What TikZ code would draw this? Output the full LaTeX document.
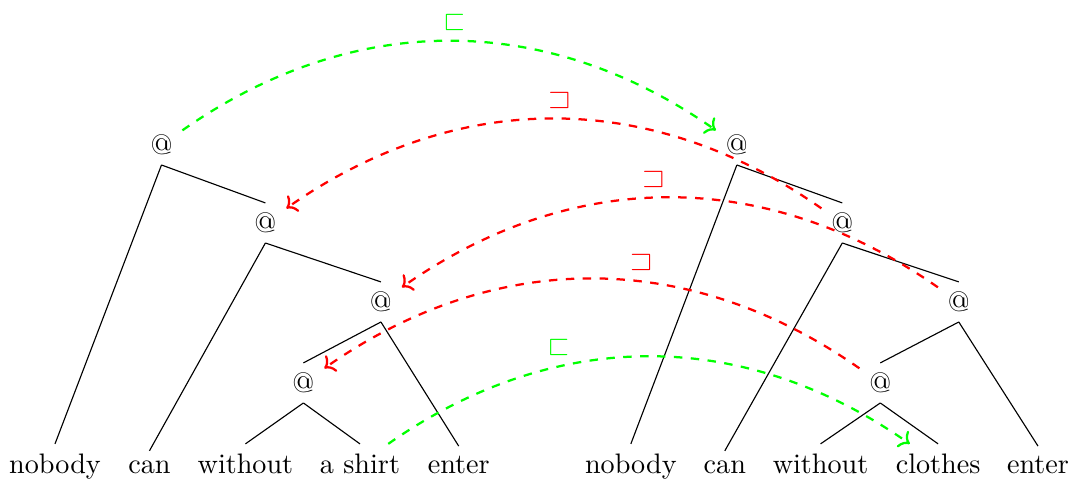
\documentclass[tikz,border=0pt]{standalone}
\usepackage{amssymb}
\usetikzlibrary{arrows.meta}

\begin{document}
\begin{tikzpicture}[line join=round,
  app/.style={inner sep=.333em},
  word/.style={anchor=base,inner sep=.333em},
  branch/.style={black},
  subarr/.style={->,dashed,thick,green},
  suparr/.style={->,dashed,thick,red}]
\path[use as bounding box] (0,0) rectangle (13.37,5.973);
% left tree
\node[app] (l1) at (2.014,4.165) {@};
\node[app] (l2) at (3.310,3.192) {@};
\node[app] (l3) at (4.751,2.207) {@};
\node[app] (l4) at (3.784,1.197) {@};
\node[word] (lnobody) at (0.686,0.069) {nobody};
\node[word] (lcan) at (1.864,0.069) {can};
\node[word] (lwithout) at (3.061,0.069) {without};
\node[word] (lshirt) at (4.489,0.069) {a shirt};
\node[word] (lenter) at (5.721,0.069) {enter};
% right tree
\node[app] (r1) at (9.190,4.165) {@};
\node[app] (r2) at (10.505,3.192) {@};
\node[app] (r3) at (11.958,2.207) {@};
\node[app] (r4) at (10.979,1.197) {@};
\node[word] (rnobody) at (7.868,0.069) {nobody};
\node[word] (rcan) at (9.040,0.069) {can};
\node[word] (rwithout) at (10.234,0.069) {without};
\node[word] (rclothes) at (11.700,0.069) {clothes};
\node[word] (renter) at (12.946,0.069) {enter};
% branches
\draw[branch] (l1.south)--(lnobody.north);
\draw[branch] (l1.south)--(l2.north);
\draw[branch] (l2.south)--(lcan.north);
\draw[branch] (l2.south)--(l3.north);
\draw[branch] (l3.south)--(l4.north);
\draw[branch] (l3.south)--(lenter.north);
\draw[branch] (l4.south)--(lwithout.north);
\draw[branch] (l4.south)--(lshirt.north);
\draw[branch] (r1.south)--(rnobody.north);
\draw[branch] (r1.south)--(r2.north);
\draw[branch] (r2.south)--(rcan.north);
\draw[branch] (r2.south)--(r3.north);
\draw[branch] (r3.south)--(r4.north);
\draw[branch] (r3.south)--(renter.north);
\draw[branch] (r4.south)--(rwithout.north);
\draw[branch] (r4.south)--(rclothes.north);
% relations
\draw[subarr] (l1) to[bend left=35] node[pos=.51,above] (rel1) {$\sqsubset$} (r1);
\draw[suparr] (r2) to[bend right=35] node[pos=.49,above] (rel2) {$\sqsupset$} (l2);
\draw[suparr] (r3) to[bend right=35] node[pos=.53,above] (rel3) {$\sqsupset$} (l3);
\draw[suparr] (r4) to[bend right=35] node[pos=.41,above] (rel4) {$\sqsupset$} (l4);
\draw[subarr] (lshirt) to[bend left=35] node[pos=.33,above] (rel5) {$\sqsubset$} (rclothes);
\end{tikzpicture}
\end{document}
